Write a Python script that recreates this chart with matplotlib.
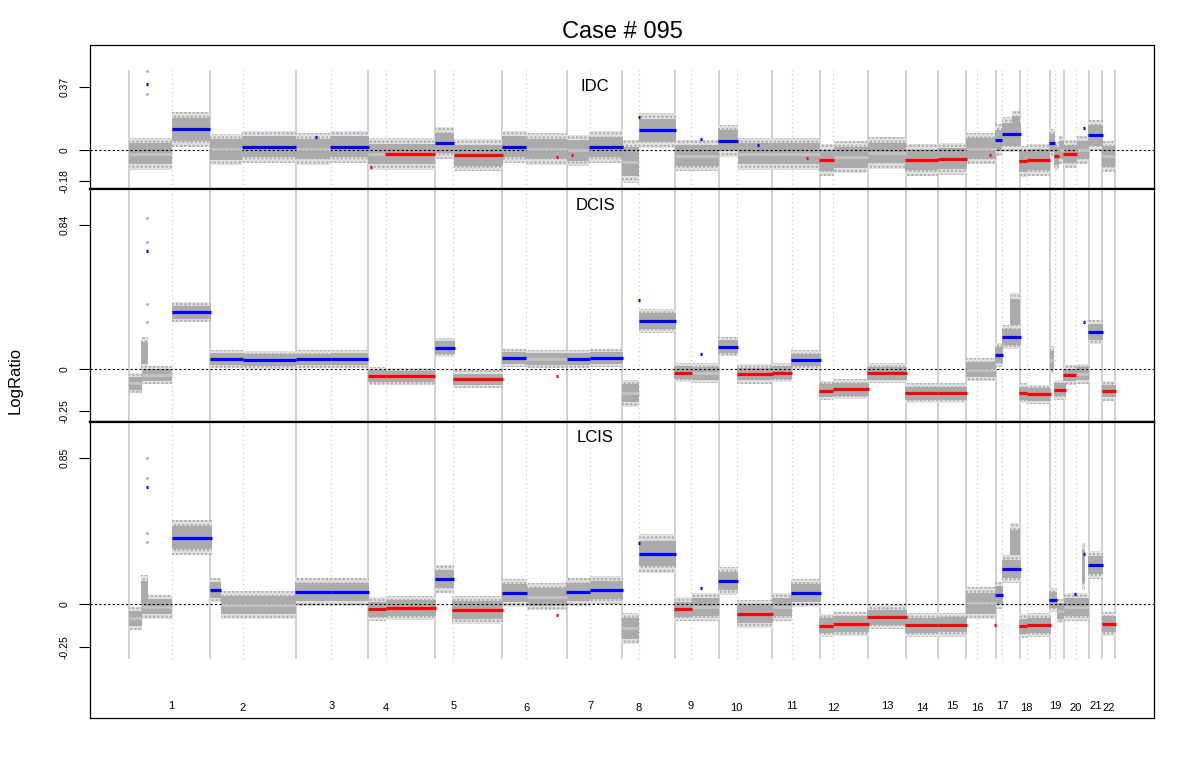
import matplotlib.pyplot as plt

plt.rcParams['font.family'] = ['Liberation Sans', 'DejaVu Sans']
plt.rcParams['hatch.linewidth'] = 1.2

# genome axis: cumulative probe index, chromosome ends and centromeres
chrom_names = [str(i) for i in range(1, 23)]
chrom_end = [813, 1670, 2396, 3066, 3736, 4383, 4930, 5460, 5906, 6436, 6916,
             7396, 7773, 8090, 8376, 8673, 8910, 9213, 9356, 9603, 9736, 9860]
centromere = [430, 1140, 2026, 2573, 3246, 3976, 4613, 5100, 5620, 6080, 6630,
              7046, None, None, None, 8483, 8736, 8980, 9263, 9473, None, None]

# segments: (start, end, log ratio, call, spread of the probe cloud)
# call: 'g' gain (blue), 'l' loss (red), 'n' not called (grey)
idc_segs = [
    (0, 430, -0.02, 'n', 0.08), (175, 195, 0.384, 'g', 0),
    (430, 813, 0.122, 'g', 0.09),
    (813, 1130, 0.005, 'n', 0.08), (1130, 1670, 0.021, 'g', 0.08),
    (1670, 2013, 0.008, 'n', 0.08), (1860, 1880, 0.077, 'g', 0),
    (2013, 2406, 0.021, 'g', 0.08),
    (2396, 2563, -0.022, 'n', 0.08), (2410, 2430, -0.095, 'l', 0),
    (2563, 3066, -0.022, 'l', 0.08),
    (3066, 3253, 0.042, 'g', 0.08), (3253, 3746, -0.029, 'l', 0.08),
    (3736, 3970, 0.021, 'g', 0.08), (3970, 4383, 0.008, 'n', 0.08),
    (4270, 4290, -0.037, 'l', 0),
    (4383, 4603, 0.0, 'n', 0.08), (4426, 4446, -0.029, 'l', 0),
    (4603, 4940, 0.019, 'g', 0.08),
    (4930, 5100, -0.066, 'n', 0.11), (5090, 5110, 0.192, 'g', 0),
    (5100, 5470, 0.116, 'g', 0.09),
    (5460, 5906, -0.031, 'n', 0.08), (5710, 5730, 0.068, 'g', 0),
    (5896, 6090, 0.056, 'g', 0.08), (6090, 6436, -0.02, 'n', 0.08),
    (6283, 6303, 0.033, 'g', 0),
    (6436, 6916, -0.02, 'n', 0.08), (6770, 6790, -0.045, 'l', 0),
    (6903, 7053, -0.058, 'l', 0.08), (7053, 7396, -0.04, 'n', 0.08),
    (7396, 7773, -0.015, 'n', 0.08),
    (7763, 8093, -0.056, 'l', 0.08),
    (8093, 8386, -0.049, 'l', 0.08),
    (8376, 8673, 0.01, 'n', 0.08), (8603, 8623, -0.03, 'l', 0),
    (8663, 8730, 0.06, 'g', 0.08), (8730, 8920, 0.093, 'g', 0.09),
    (8903, 8980, -0.064, 'l', 0.08), (8980, 9213, -0.055, 'l', 0.08),
    (9203, 9266, 0.042, 'g', 0.07), (9253, 9303, -0.035, 'l', 0.07),
    (9303, 9356, 0.0, 'n', 0.07),
    (9346, 9480, -0.023, 'l', 0.07), (9480, 9603, 0.0, 'n', 0.07),
    (9540, 9560, 0.128, 'g', 0),
    (9596, 9746, 0.087, 'g', 0.08),
    (9736, 9860, -0.035, 'n', 0.08),
]
dcis_segs = [
    (0, 130, -0.085, 'n', 0.05), (130, 430, -0.037, 'n', 0.045),
    (175, 195, 0.686, 'g', 0),
    (430, 826, 0.33, 'g', 0.05),
    (813, 1140, 0.058, 'g', 0.045), (1140, 1670, 0.051, 'g', 0.045),
    (1670, 2023, 0.055, 'g', 0.045), (2023, 2396, 0.057, 'g', 0.045),
    (2396, 2573, -0.043, 'l', 0.045), (2573, 3066, -0.045, 'l', 0.045),
    (3066, 3260, 0.123, 'g', 0.05), (3240, 3746, -0.062, 'l', 0.045),
    (3736, 3970, 0.061, 'g', 0.045), (3970, 4383, 0.058, 'n', 0.045),
    (4270, 4290, -0.043, 'l', 0),
    (4380, 4613, 0.057, 'g', 0.045), (4613, 4940, 0.061, 'g', 0.045),
    (4930, 5100, -0.144, 'n', 0.07), (5090, 5110, 0.40, 'g', 0),
    (5100, 5470, 0.279, 'g', 0.06),
    (5456, 5630, -0.023, 'l', 0.05), (5630, 5906, -0.027, 'n', 0.05),
    (5713, 5733, 0.086, 'g', 0),
    (5896, 6090, 0.129, 'g', 0.05), (6080, 6446, -0.031, 'l', 0.05),
    (6436, 6636, -0.023, 'l', 0.05), (6623, 6923, 0.051, 'g', 0.05),
    (6906, 7046, -0.128, 'l', 0.05), (7046, 7403, -0.12, 'l', 0.05),
    (7386, 7780, -0.027, 'l', 0.05),
    (7763, 8096, -0.144, 'l', 0.05),
    (8093, 8386, -0.144, 'l', 0.05),
    (8376, 8673, -0.005, 'n', 0.06),
    (8663, 8746, 0.08, 'g', 0.06), (8730, 8923, 0.185, 'g', 0.06),
    (8903, 8980, -0.144, 'l', 0.05), (8980, 9220, -0.15, 'l', 0.05),
    (9213, 9253, 0.05, 'n', 0.07), (9253, 9373, -0.124, 'l', 0.05),
    (9346, 9473, -0.037, 'l', 0.05), (9473, 9603, -0.03, 'n', 0.05),
    (9540, 9560, 0.27, 'g', 0),
    (9596, 9746, 0.215, 'g', 0.06),
    (9730, 9870, -0.13, 'l', 0.05),
]
lcis_segs = [
    (0, 130, -0.082, 'n', 0.06), (130, 430, -0.014, 'n', 0.06),
    (175, 195, 0.683, 'g', 0),
    (430, 830, 0.388, 'g', 0.09),
    (813, 920, 0.083, 'g', 0.06), (920, 1670, -0.004, 'n', 0.07),
    (1663, 2023, 0.07, 'g', 0.07), (2023, 2400, 0.072, 'g', 0.07),
    (2393, 2573, -0.029, 'l', 0.06), (2573, 3073, -0.023, 'l', 0.06),
    (3066, 3256, 0.147, 'g', 0.07), (3236, 3746, -0.033, 'l', 0.07),
    (3736, 3986, 0.064, 'g', 0.07), (3986, 4383, 0.045, 'n', 0.07),
    (4270, 4290, -0.062, 'l', 0),
    (4373, 4613, 0.07, 'g', 0.07), (4613, 4940, 0.083, 'g', 0.07),
    (4930, 5100, -0.14, 'n', 0.08), (5090, 5110, 0.359, 'g', 0),
    (5100, 5470, 0.295, 'g', 0.1),
    (5456, 5630, -0.029, 'l', 0.06), (5630, 5906, -0.017, 'n', 0.07),
    (5713, 5733, 0.097, 'g', 0),
    (5896, 6090, 0.136, 'g', 0.07), (6083, 6446, -0.055, 'l', 0.07),
    (6436, 6630, -0.014, 'n', 0.07), (6623, 6923, 0.064, 'g', 0.07),
    (6906, 7046, -0.124, 'l', 0.06), (7046, 7403, -0.115, 'l', 0.06),
    (7386, 7780, -0.076, 'l', 0.06),
    (7763, 8096, -0.122, 'l', 0.06),
    (8093, 8386, -0.119, 'l', 0.06),
    (8376, 8673, 0.006, 'n', 0.08), (8653, 8673, -0.12, 'l', 0),
    (8663, 8746, 0.052, 'g', 0.07), (8730, 8923, 0.204, 'g', 0.07),
    (8903, 8980, -0.128, 'l', 0.06), (8980, 9220, -0.122, 'l', 0.06),
    (9203, 9280, 0.025, 'g', 0.06), (9280, 9356, -0.04, 'n', 0.06),
    (9356, 9603, -0.014, 'n', 0.07),
    (9450, 9470, 0.058, 'g', 0), (9540, 9560, 0.295, 'g', 0),
    (9596, 9746, 0.227, 'g', 0.07),
    (9730, 9870, -0.115, 'l', 0.06),
]

# extra probe clouds (start, end, centre, spread) where the cloud departs from the segment
idc_spikes = [(8830, 8910, 0.15, 0.07)]
dcis_spikes = [(120, 190, 0.09, 0.085), (8810, 8910, 0.33, 0.1)]
lcis_spikes = [(120, 190, 0.07, 0.085), (8810, 8910, 0.36, 0.1), (9535, 9565, 0.22, 0.12)]

# single outlying probes
idc_out = [(183, 0.46), (183, 0.33)]
dcis_out = [(183, 0.879), (183, 0.742), (183, 0.38), (183, 0.27)]
lcis_out = [(183, 0.85), (183, 0.733), (183, 0.413), (183, 0.364)]

panel_names = ['IDC', 'DCIS', 'LCIS']
panel_ylim = [(-0.225, 0.6126), (-0.3115, 1.050), (-0.662, 1.061)]
panel_ticks = [[0.37, 0, -0.18], [0.84, 0, -0.25], [0.85, 0, -0.25]]
panel_ticklabels = [['0.37', '0', '-0.18'], ['0.84', '0', '-0.25'], ['0.85', '0', '-0.25']]
panel_name_y = [0.715, 0.931, 0.947]

seg_color = {'g': '#0000FF', 'l': '#FF0000', 'n': '#C4C4C4'}

fig = plt.figure(figsize=(12, 7.64), dpi=100)
left, width = 90 / 1200, 1064 / 1200
bounds = [(45, 189), (189, 422), (422, 718)]
axes = []
for top, bottom in bounds:
    ax = fig.add_axes([left, 1 - bottom / 764, width, (bottom - top) / 764])
    axes.append(ax)

all_segs = [idc_segs, dcis_segs, lcis_segs]
all_spikes = [idc_spikes, dcis_spikes, lcis_spikes]
all_out = [idc_out, dcis_out, lcis_out]

for i, ax in enumerate(axes):
    ylo, yhi = panel_ylim[i]
    ax.set_xlim(-387, 10253)
    ax.set_ylim(ylo, yhi)

    # chromosome boundaries and centromeres
    if i == 0:
        v0, v1 = ylo, 0.467
    elif i == 1:
        v0, v1 = ylo, yhi
    else:
        v0, v1 = -0.318, yhi
    ax.vlines([0] + chrom_end, v0, v1, color='#C8C8C8', lw=1.2, zorder=1)
    cen = [c for c in centromere if c is not None]
    ax.vlines(cen, v0, v1, color='#CFCFCF', lw=0.9, linestyles=(0, (1, 2.5)), zorder=1)

    # probe clouds: speckled outer band, then dense core
    clouds = [(s, e, v, w) for s, e, v, c, w in all_segs[i] if w > 0] + all_spikes[i]
    for s, e, v, w in clouds:
        ax.fill_between([s, e], v - 1.15 * w, v + 1.15 * w, facecolor='#E2E2E2',
                        edgecolor='#ABABAB', hatch='....', lw=0, zorder=2)
    for s, e, v, w in clouds:
        ax.fill_between([s, e], v - 0.75 * w, v + 0.75 * w, color='#ABABAB', lw=0, zorder=2)
    ox = [p[0] for p in all_out[i]]
    oy = [p[1] for p in all_out[i]]
    ax.scatter(ox, oy, s=4, color='#ABABAB', lw=0, zorder=2)

    ax.axhline(0, color='black', lw=0.8, ls=(0, (2, 2)), zorder=3)

    # segments: grey first, called ones on top
    for s, e, v, c, w in all_segs[i]:
        if c == 'n':
            ax.plot([s, e], [v, v], color=seg_color[c], lw=2, solid_capstyle='butt', zorder=4)
    for s, e, v, c, w in all_segs[i]:
        if c != 'n':
            ax.plot([s, e], [v, v], color=seg_color[c], lw=2.3, solid_capstyle='butt', zorder=5)

    ax.text(0.4746, panel_name_y[i], panel_names[i], transform=ax.transAxes,
            ha='center', va='center', fontsize=12)

    ax.set_xticks([])
    ax.set_yticks(panel_ticks[i])
    ax.set_yticklabels(panel_ticklabels[i], rotation=90, va='center', fontsize=7.5)
    ax.tick_params(axis='y', direction='out', length=8, width=0.8, pad=7)
    for side in ['left', 'right', 'top', 'bottom']:
        ax.spines[side].set_linewidth(0.9)
    if i > 0:
        ax.spines['top'].set_linewidth(1.6)
    if i < 2:
        ax.spines['bottom'].set_linewidth(1.6)

# chromosome labels in the bottom panel, alternating slightly in height
ax3 = axes[2]
starts = [0] + chrom_end[:-1]
for k, name in enumerate(chrom_names):
    xpos = centromere[k] if centromere[k] is not None else (starts[k] + chrom_end[k]) / 2
    ypos = -0.59 if k % 2 == 0 else -0.602
    ax3.text(xpos, ypos, name, ha='center', va='center', fontsize=8)

fig.text(622 / 1200, 1 - 32 / 764, 'Case # 095', ha='center', va='center', fontsize=17)
fig.text(15 / 1200, 1 - 380 / 764, 'LogRatio', rotation=90, ha='center', va='center', fontsize=12)

fig.savefig('out.png', dpi=100)
